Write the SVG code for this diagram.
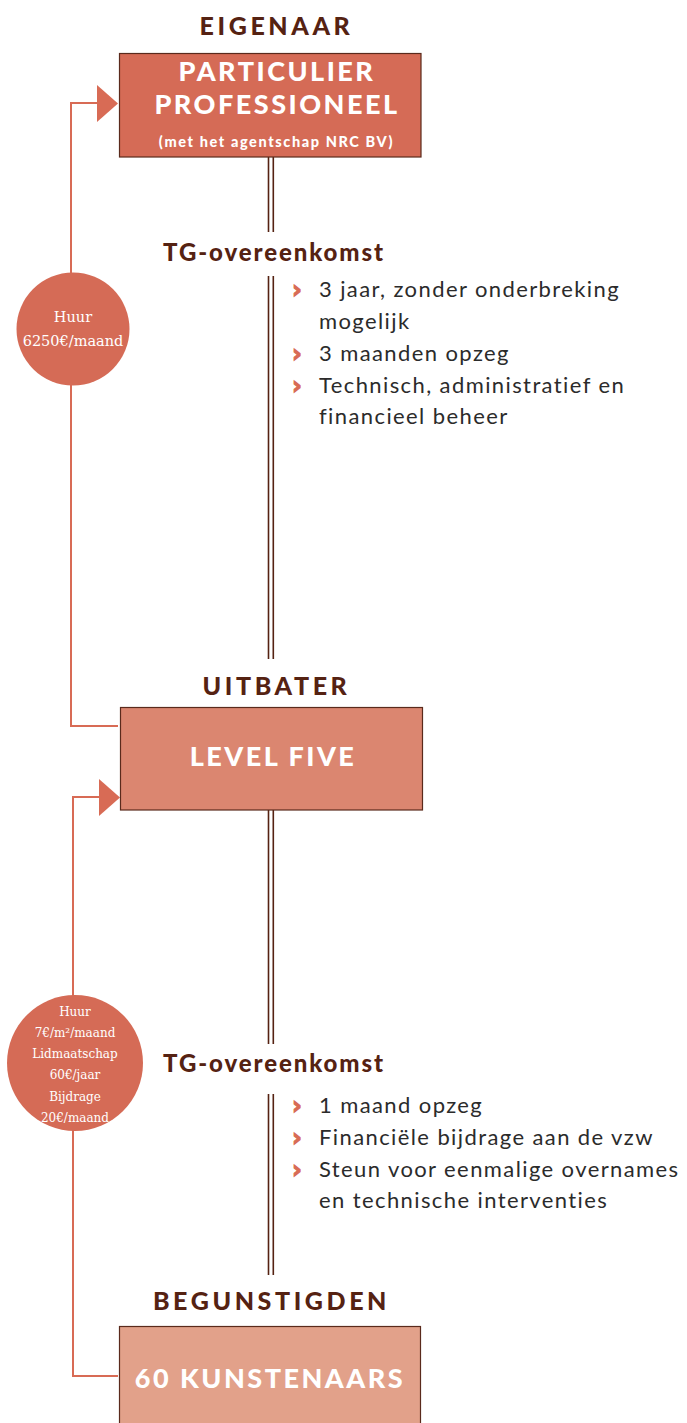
<svg xmlns="http://www.w3.org/2000/svg" width="687" height="1423" viewBox="0 0 687 1423">
<defs>
<style>
.title{font-family:Lato,"Open Sans",sans-serif;font-weight:900;font-size:25px;fill:#552212;letter-spacing:3.6px;text-anchor:middle}
.tg{font-family:Lato,"Open Sans",sans-serif;font-weight:900;font-size:24px;fill:#552212;letter-spacing:1.9px}
.boxt{font-family:Lato,"Open Sans",sans-serif;font-weight:900;font-size:27px;fill:#ffffff;letter-spacing:2.5px;text-anchor:middle}
.sub{font-family:Lato,"Open Sans",sans-serif;font-weight:900;font-size:14.5px;fill:#ffffff;letter-spacing:1.6px;text-anchor:middle}
.body{font-family:Lato,"Open Sans",sans-serif;font-size:22px;fill:#2b2b2b;letter-spacing:1.4px}
.chev{font-family:"DejaVu Sans",sans-serif;font-weight:bold;font-size:24px;fill:#D86B55;stroke:#D86B55;stroke-width:1.2}
.circ{font-family:"DejaVu Serif","Liberation Serif",serif;font-size:14.5px;fill:#ffffff;text-anchor:middle}
.circs{font-family:"DejaVu Serif","Liberation Serif",serif;font-size:12px;fill:#ffffff;text-anchor:middle}
.dbl{stroke:#552212;stroke-width:1.6;fill:none}
.conn{stroke:#D86B55;stroke-width:2;fill:none}
.arr{fill:#D86B55}
.box{stroke:#5a2a1c;stroke-width:1.2}
</style>
</defs>

<g id="connectors">
  <path class="dbl" d="M268.5 157 V232 M273.3 157 V232"/>
  <path class="dbl" d="M268.5 276 V659 M273.3 276 V659"/>
  <path class="dbl" d="M268.5 810 V1044 M273.3 810 V1044"/>
  <path class="dbl" d="M268.5 1094 V1275 M273.3 1094 V1275"/>
  <path class="conn" d="M118 726 H71 V103 H97"/>
  <polygon class="arr" points="97,85 118,103.5 97,122"/>
  <path class="conn" d="M118 1376 H73 V797 H99"/>
  <polygon class="arr" points="99,779 120,797.5 99,816"/>
</g>

<g id="eigenaar">
  <text class="title" x="276.5" y="35">EIGENAAR</text>
  <rect class="box" x="119.5" y="53.5" width="301.5" height="103.5" fill="#D56B56"/>
  <text class="boxt" x="277" y="81">PARTICULIER</text>
  <text class="boxt" x="277" y="114">PROFESSIONEEL</text>
  <text class="sub" x="276.5" y="147">(met het agentschap NRC BV)</text>
</g>

<g id="huur1">
  <circle cx="73" cy="329" r="56.5" fill="#D56B56"/>
  <text class="circ" x="73" y="322">Huur</text>
  <text class="circ" x="73" y="346">6250€/maand</text>
</g>

<g id="tg1">
  <text class="tg" x="163" y="261">TG-overeenkomst</text>
  <text class="chev" x="292" y="298">›</text>
  <text class="body" x="319" y="297">3 jaar, zonder onderbreking</text>
  <text class="body" x="319" y="329">mogelijk</text>
  <text class="chev" x="292" y="362">›</text>
  <text class="body" x="319" y="361">3 maanden opzeg</text>
  <text class="chev" x="292" y="394">›</text>
  <text class="body" x="319" y="393">Technisch, administratief en</text>
  <text class="body" x="319" y="424">financieel beheer</text>
</g>

<g id="uitbater">
  <text class="title" x="276.5" y="695">UITBATER</text>
  <rect class="box" x="120.5" y="707.5" width="302" height="102.5" fill="#DB8670"/>
  <text class="boxt" x="273" y="766">LEVEL FIVE</text>
</g>

<g id="huur2">
  <circle cx="75" cy="1063" r="68" fill="#D56B56"/>
  <text class="circs" x="75" y="1016">Huur</text>
  <text class="circs" x="75" y="1037">7€/m²/maand</text>
  <text class="circs" x="75" y="1058">Lidmaatschap</text>
  <text class="circs" x="75" y="1079">60€/jaar</text>
  <text class="circs" x="75" y="1101">Bijdrage</text>
  <text class="circs" x="75" y="1122">20€/maand</text>
</g>

<g id="tg2">
  <text class="tg" x="163" y="1072">TG-overeenkomst</text>
  <text class="chev" x="292" y="1114">›</text>
  <text class="body" x="319" y="1113">1 maand opzeg</text>
  <text class="chev" x="292" y="1146">›</text>
  <text class="body" x="319" y="1145">Financiële bijdrage aan de vzw</text>
  <text class="chev" x="292" y="1178">›</text>
  <text class="body" x="319" y="1177">Steun voor eenmalige overnames</text>
  <text class="body" x="319" y="1208">en technische interventies</text>
</g>

<g id="begunstigden">
  <text class="title" x="271.5" y="1310">BEGUNSTIGDEN</text>
  <rect class="box" x="119.5" y="1326.5" width="301" height="100" fill="#E2A18A"/>
  <text class="boxt" x="270" y="1388">60 KUNSTENAARS</text>
</g>
</svg>
